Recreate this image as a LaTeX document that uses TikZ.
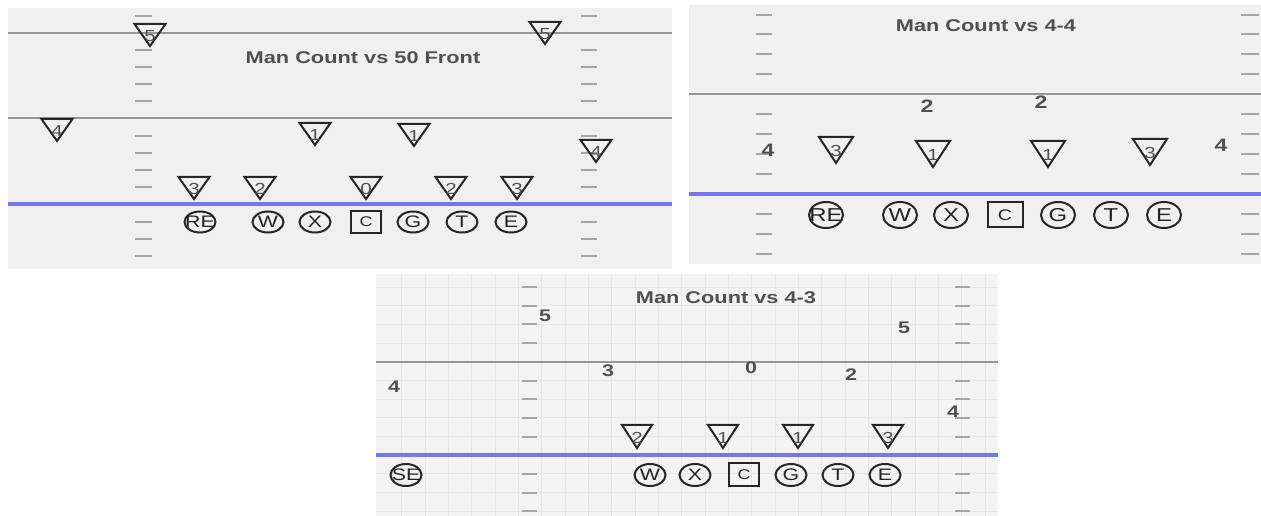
\documentclass[tikz,border=0pt]{standalone}
\usepackage{fontspec}
\newfontfamily\lab[FakeStretch=1.28]{Liberation Sans}
\usetikzlibrary{shapes.geometric}

\definecolor{panelbg}{RGB}{240,240,240}
\definecolor{panelbgb}{RGB}{243,243,243}
\definecolor{gridc}{RGB}{230,230,230}
\definecolor{hashc}{RGB}{165,165,165}
\definecolor{yardc}{RGB}{150,150,150}
\definecolor{scrim}{RGB}{118,118,240}
\definecolor{inkc}{RGB}{80,80,80}
\definecolor{lettc}{RGB}{35,35,35}

\tikzset{
  hashmark/.style={draw=hashc, line width=0.9pt},
  yard/.style={draw=yardc, line width=1.8pt},
  los/.style={draw=scrim, line width=2.5pt},
  gridline/.style={draw=gridc, line width=0.6pt},
  title/.style={inner sep=0, text=inkc, font=\lab\bfseries\fontsize{12.75}{14}\selectfont},
  count/.style={inner sep=0, text=inkc, font=\lab\bfseries\fontsize{13.5}{15}\selectfont},
  countsm/.style={inner sep=0, text=inkc, font=\lab\bfseries\fontsize{12.6}{14}\selectfont},
  tri/.style={draw=black!85, line width=1.5pt, line join=miter},
  trinum/.style={inner sep=0, text=inkc, font=\lab\fontsize{12}{13}\selectfont},
  player/.style={ellipse, draw=black!85, line width=1.5pt, inner sep=0, text=lettc},
  snapbox/.style={rectangle, draw=black!85, line width=1.5pt, inner sep=0, text=lettc},
  sizeA/.style={minimum width=23.25pt, minimum height=15.75pt, font=\lab\fontsize{12.5}{13}\selectfont},
  sqA/.style={minimum width=22.5pt, minimum height=16.5pt, font=\lab\fontsize{10.5}{11}\selectfont},
  sizeB/.style={minimum width=25.5pt, minimum height=19.5pt, font=\lab\fontsize{14}{15}\selectfont},
  sqB/.style={minimum width=26.25pt, minimum height=18.75pt, font=\lab\fontsize{11.5}{12}\selectfont},
  sizeC/.style={minimum width=23.25pt, minimum height=16.5pt, font=\lab\fontsize{12.5}{13}\selectfont},
  sqC/.style={minimum width=22.5pt, minimum height=17.25pt, font=\lab\fontsize{10.5}{11}\selectfont},
}

% down-pointing defender triangle: name, x, top y, width, height, number
\newcommand\deftri[6]{%
  \draw[tri] ({#2-#4/2},#3) -- ({#2+#4/2},#3) -- (#2,{#3+#5}) -- cycle;
  \node[trinum] (#1) at (#2,{#3+0.55*#5}) {#6};
}
% fixed-size marker text that may spill over its outline
\newcommand\tag[1]{\makebox[0pt]{#1}}

\begin{document}
\begin{tikzpicture}[x=0.75pt,y=-0.75pt]
\path[use as bounding box] (0,0) rectangle (1261,516);

% ---------- 50 front ----------
\fill[panelbg] (8,8) rectangle (672,269);
\foreach \y in {16,50,67,84,101,136,153,170,187,222,239,256}{
  \draw[hashmark] (135,\y) -- (152,\y);
  \draw[hashmark] (581,\y) -- (597,\y);
}
\draw[yard] (8,33) -- (672,33);
\draw[yard] (8,118) -- (672,118);
\draw[los] (8,204) -- (672,204);
\node[title] (ttlA) at (363,58) {Man Count vs 50 Front};

\deftri{a5l}{150}{24}{31}{22}{5}
\deftri{a5r}{545}{22}{31}{22}{5}
\deftri{a4l}{57}{119}{31}{22}{4}
\deftri{a1l}{315}{123}{31}{22}{1}
\deftri{a1r}{414}{124}{31}{22}{1}
\deftri{a4r}{596}{140}{31}{22}{4}
\deftri{a3l}{194}{177}{31}{22}{3}
\deftri{a2l}{260}{177}{31}{22}{2}
\deftri{a0}{366}{177}{31}{22}{0}
\deftri{a2r}{451}{177}{31}{22}{2}
\deftri{a3r}{517}{177}{31}{22}{3}

\node[player,sizeA] (aRE) at (200,222) {\tag{RE}};
\node[player,sizeA] (aW) at (268,222) {\tag{W}};
\node[player,sizeA] (aX) at (315,222) {\tag{X}};
\node[snapbox,sqA] (aC) at (366,222) {\tag{C}};
\node[player,sizeA] (aG) at (413,222) {\tag{G}};
\node[player,sizeA] (aT) at (462,222) {\tag{T}};
\node[player,sizeA] (aE) at (511,222) {\tag{E}};

% ---------- 4-4 ----------
\fill[panelbg] (689,5) rectangle (1261,264);
\foreach \y in {15,34,54,74,114,134,154,174,214,234,254}{
  \draw[hashmark] (756,\y) -- (772,\y);
  \draw[hashmark] (1241,\y) -- (1259,\y);
}
\draw[yard] (689,94) -- (1261,94);
\draw[los] (689,194) -- (1261,194);
\node[title] (ttlB) at (986,26) {Man Count vs 4-4};

\node[count] (b2l) at (927,106) {2};
\node[count] (b2r) at (1041,102) {2};
\node[count] (b4l) at (768,150) {4};
\node[count] (b4r) at (1221,145) {4};

\deftri{b3l}{836}{137}{34}{26}{3}
\deftri{b1l}{933}{141}{34}{26}{1}
\deftri{b1r}{1048}{141}{34}{26}{1}
\deftri{b3r}{1150}{139}{34}{26}{3}

\node[player,sizeB] (bRE) at (826,215) {\tag{RE}};
\node[player,sizeB] (bW) at (900,215) {\tag{W}};
\node[player,sizeB] (bX) at (951,215) {\tag{X}};
\node[snapbox,sqB] (bC) at (1005,215) {\tag{C}};
\node[player,sizeB] (bG) at (1058,215) {\tag{G}};
\node[player,sizeB] (bT) at (1111,215) {\tag{T}};
\node[player,sizeB] (bE) at (1164,215) {\tag{E}};

% ---------- 4-3 ----------
\fill[panelbgb] (376,274) rectangle (998,516);
\begin{scope}
  \clip (376,274) rectangle (998,516);
  \foreach \k in {0,...,25}{
    \draw[gridline] ({401.7+23.33*\k},274) -- ({401.7+23.33*\k},516);
  }
  \foreach \k in {0,...,12}{
    \draw[gridline] (376,{287+18.67*\k}) -- (998,{287+18.67*\k});
  }
\end{scope}
\foreach \y in {287,306,324,343,381,399,418,437,474,493,511}{
  \draw[hashmark] (522,\y) -- (537,\y);
  \draw[hashmark] (955,\y) -- (970,\y);
}
\draw[yard] (376,362) -- (998,362);
\draw[los] (376,455) -- (998,455);
\node[title] (ttlC) at (726,298) {Man Count vs 4-3};

\node[countsm] (c5l) at (545,316) {5};
\node[countsm] (c4l) at (394,387) {4};
\node[countsm] (c3) at (608,371) {3};
\node[countsm] (c0) at (751,368) {0};
\node[countsm] (c2) at (851,375) {2};
\node[countsm] (c5r) at (904,328) {5};
\node[countsm] (c4r) at (953,412) {4};

\deftri{c2t}{637}{425}{30}{23}{2}
\deftri{c1l}{723}{425}{30}{23}{1}
\deftri{c1r}{798}{425}{30}{23}{1}
\deftri{c3t}{888}{425}{30}{23}{3}

\node[player,sizeC] (cSE) at (406,475) {\tag{SE}};
\node[player,sizeC] (cW) at (650,475) {\tag{W}};
\node[player,sizeC] (cX) at (695,475) {\tag{X}};
\node[snapbox,sqC] (cC) at (744,475) {\tag{C}};
\node[player,sizeC] (cG) at (791,475) {\tag{G}};
\node[player,sizeC] (cT) at (838,475) {\tag{T}};
\node[player,sizeC] (cE) at (885,475) {\tag{E}};
\end{tikzpicture}
\end{document}
